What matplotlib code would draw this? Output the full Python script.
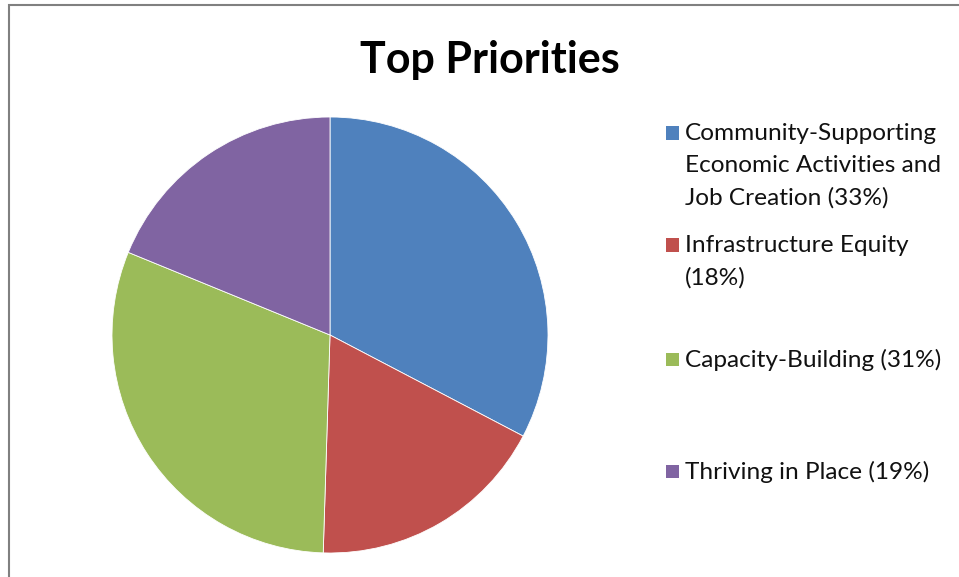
import matplotlib
matplotlib.use("Agg")
import matplotlib.pyplot as plt
from matplotlib.patches import Rectangle

labels = ["Community-Supporting\nEconomic Activities and\nJob Creation (33%)",
          "Infrastructure Equity\n(18%)",
          "Capacity-Building (31%)",
          "Thriving in Place (19%)"]
values = [33, 18, 31, 19]
colors = ["#4F81BD", "#C0504D", "#9BBB59", "#8064A2"]
title = "Top Priorities"

W, H = 959, 577
fig = plt.figure(figsize=(W/100, H/100), dpi=100)
fig.patch.set_facecolor("white")

# outer border
fig.add_artist(Rectangle((8.5/W, -0.1), 1.2, (H - 4.5)/H + 0.1, transform=fig.transFigure,
                         fill=False, edgecolor="#808080", linewidth=1.5))

cx, cy, r = 330, 335, 218
ax = fig.add_axes([(cx - r)/W, (H - cy - r)/H, 2*r/W, 2*r/H])
ax.pie(values, colors=colors, startangle=90, counterclock=False,
       wedgeprops=dict(edgecolor="white", linewidth=0.6), radius=1)
ax.set_xlim(-1, 1); ax.set_ylim(-1, 1)
ax.set_aspect("equal")
ax.axis("off")

fig.text(490/W, 1 - 73/H, title, ha="center", va="baseline",
         fontsize=31, fontweight="bold", family="Lato", color="#000000")

ys = [133, 245, 359, 471]
for lab, col, y in zip(labels, colors, ys):
    fig.add_artist(Rectangle((666/W, 1 - (y + 6.5)/H), 13/W, 13/H,
                             transform=fig.transFigure, facecolor=col, edgecolor="none"))
    fig.text(685/W, 1 - (y - 10)/H, lab, ha="left", va="top",
             fontsize=17.6, family="Lato", linespacing=1.63, color="#111111")

fig.savefig("out.png", dpi=100)
